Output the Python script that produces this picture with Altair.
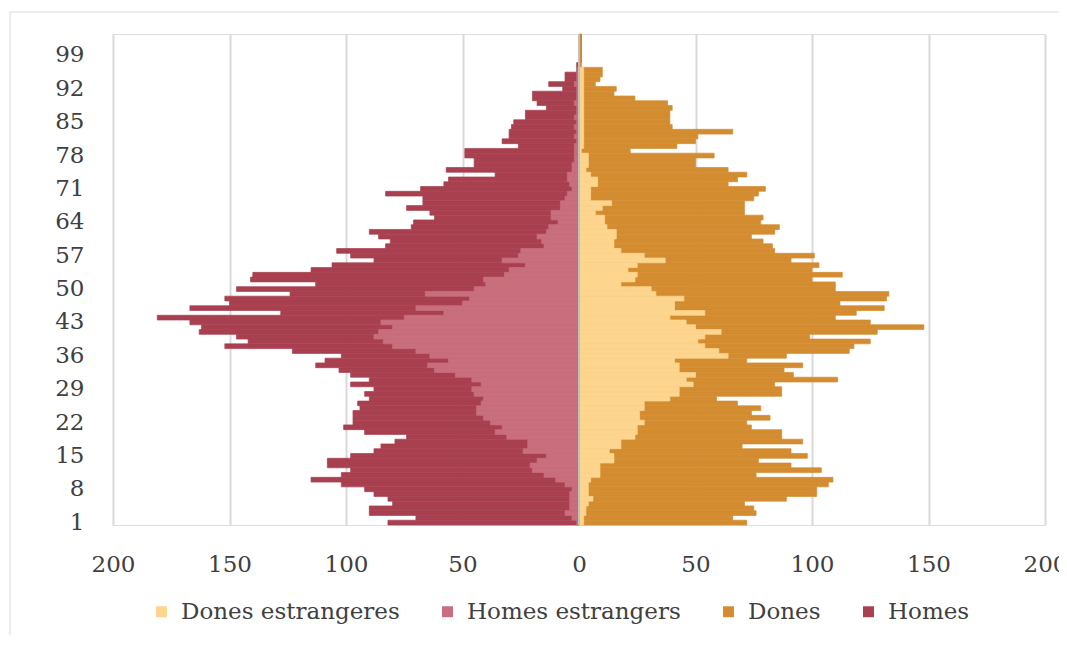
import altair as alt
import pandas as pd

ages = list(range(1, 104))

homes = [82, 70, 90, 90, 80, 82, 88, 92, 102, 115,
         102, 98, 108, 108, 98, 88, 85, 79, 74, 92,
         101, 97, 97, 97, 94, 95, 90, 92, 88, 98,
         90, 98, 103, 113, 109, 102, 123, 152, 142, 147,
         163, 162, 167, 181, 128, 167, 150, 152, 124, 147,
         113, 141, 140, 115, 106, 88, 98, 104, 83, 81,
         86, 90, 72, 71, 62, 64, 74, 67, 67, 83,
         68, 58, 56, 36, 57, 45, 45, 49, 49, 26,
         33, 30, 30, 29, 28, 23, 23, 14, 18, 20,
         20, 7, 13, 6, 6, 1, 1, 0, 0, 0, 0, 0, 0]

homes_estrangers = [1, 3, 6, 4, 4, 4, 4, 3, 6, 10,
                    15, 20, 21, 18, 14, 24, 22, 22, 31, 36,
                    33, 38, 41, 44, 44, 42, 41, 45, 46, 42,
                    46, 53, 62, 65, 56, 64, 70, 80, 84, 88,
                    86, 80, 85, 75, 58, 70, 50, 47, 66, 45,
                    40, 41, 32, 30, 23, 33, 26, 25, 15, 16,
                    18, 14, 13, 9, 12, 12, 8, 8, 6, 5,
                    3, 4, 5, 5, 3, 3, 2, 2, 2, 2,
                    1, 2, 1, 2, 1, 2, 1, 1, 2, 1,
                    1, 1, 2, 1, 1, 1, 0, 0, 0, 0, 0, 0, 0]

dones = [72, 66, 76, 75, 71, 89, 102, 102, 107, 109,
         76, 104, 91, 77, 98, 91, 70, 96, 87, 87,
         74, 72, 82, 74, 78, 68, 59, 87, 87, 84,
         111, 92, 88, 96, 72, 89, 116, 118, 125, 99,
         128, 148, 125, 110, 119, 131, 112, 132, 133, 110,
         110, 100, 113, 100, 103, 91, 101, 84, 83, 79,
         74, 84, 86, 78, 79, 71, 71, 71, 75, 77,
         80, 64, 68, 72, 64, 50, 50, 58, 22, 42,
         50, 51, 66, 40, 39, 39, 39, 40, 38, 24,
         15, 16, 7, 9, 10, 10, 1, 1, 1, 1, 1, 1, 1]

dones_estrangeres = [2, 2, 3, 3, 4, 6, 4, 4, 4, 5,
                     9, 9, 9, 15, 15, 13, 18, 18, 24, 25,
                     25, 28, 26, 26, 28, 28, 39, 43, 43, 49,
                     46, 50, 43, 43, 41, 64, 60, 54, 51, 54,
                     61, 50, 46, 39, 54, 41, 41, 45, 33, 31,
                     18, 24, 25, 21, 25, 37, 28, 18, 15, 15,
                     16, 16, 12, 11, 11, 7, 10, 14, 5, 5,
                     5, 8, 8, 5, 3, 4, 4, 4, 1, 2,
                     2, 2, 2, 2, 2, 2, 2, 2, 2, 2,
                     2, 2, 2, 2, 2, 2, 0, 0, 0, 0, 0, 0, 0]

series_order = ["Dones estrangeres", "Homes estrangers", "Dones", "Homes"]
colors = ["#FDD58E", "#C86E7D", "#D48C30", "#A84050"]
y_labels = list(range(1, 100, 7))
x_ticks = list(range(-200, 201, 50))

totals = pd.DataFrame({
    "age": ages * 2,
    "series": ["Homes"] * len(ages) + ["Dones"] * len(ages),
    "value": [-v for v in homes] + dones,
})
foreign = pd.DataFrame({
    "age": ages * 2,
    "series": ["Homes estrangers"] * len(ages) + ["Dones estrangeres"] * len(ages),
    "value": [-v for v in homes_estrangers] + dones_estrangeres,
})

FONT = "DejaVu Serif"

x_enc = alt.X(
    "value:Q",
    scale=alt.Scale(domain=[-200, 200], nice=False),
    axis=alt.Axis(values=x_ticks, labelExpr="abs(datum.value)", title=None,
                  grid=True, gridColor="#D9D9D9", gridWidth=2, domain=False,
                  ticks=False, labelFontSize=23, labelPadding=28,
                  labelFlush=False, labelColor="#404040", labelFont=FONT),
)
y_enc = alt.Y(
    "age:O",
    sort="descending",
    scale=alt.Scale(paddingInner=0, paddingOuter=0),
    axis=alt.Axis(values=y_labels, title=None, ticks=False, domain=False,
                  grid=False, labelFontSize=23, labelPadding=29,
                  labelColor="#404040", labelFont=FONT),
)
color_enc = alt.Color(
    "series:N",
    scale=alt.Scale(domain=series_order, range=colors),
    legend=alt.Legend(orient="none", direction="horizontal", columns=4,
                      legendX=37, legendY=566, title=None, labelLimit=0,
                      symbolType="square", symbolSize=120, symbolStrokeWidth=0,
                      labelFontSize=23, labelFont=FONT, labelColor="#404040",
                      columnPadding=36, labelOffset=8),
)
stroke_enc = alt.Stroke(
    "series:N",
    scale=alt.Scale(domain=series_order, range=colors),
    legend=None,
)

base_tot = alt.Chart(totals).mark_bar(strokeWidth=0.7).encode(
    x=x_enc, y=y_enc, color=color_enc, stroke=stroke_enc)
base_for = alt.Chart(foreign).mark_bar(strokeWidth=0.7).encode(
    x=x_enc, y=y_enc, color=color_enc, stroke=stroke_enc)
zero_rule = alt.Chart(pd.DataFrame({"z": [0]})).mark_rule(
    color="#BFBFBF", strokeWidth=2).encode(x="z:Q")
frame = alt.Chart(pd.DataFrame({"f": [0]})).mark_rect(
    fill=None, stroke="#D9D9D9", strokeWidth=1).encode(
    x=alt.value(-103), x2=alt.value(1000), y=alt.value(-22), y2=alt.value(700))

chart = alt.layer(base_tot, base_for, zero_rule, frame).properties(
    width=932,
    height=491,
    autosize=alt.AutoSizeParams(type="none"),
    padding={"left": 105, "top": 26, "right": 14, "bottom": 110},
).configure_view(stroke=None).configure(font=FONT)

chart.save("out.html", embed_options={"renderer": "svg", "actions": False})
